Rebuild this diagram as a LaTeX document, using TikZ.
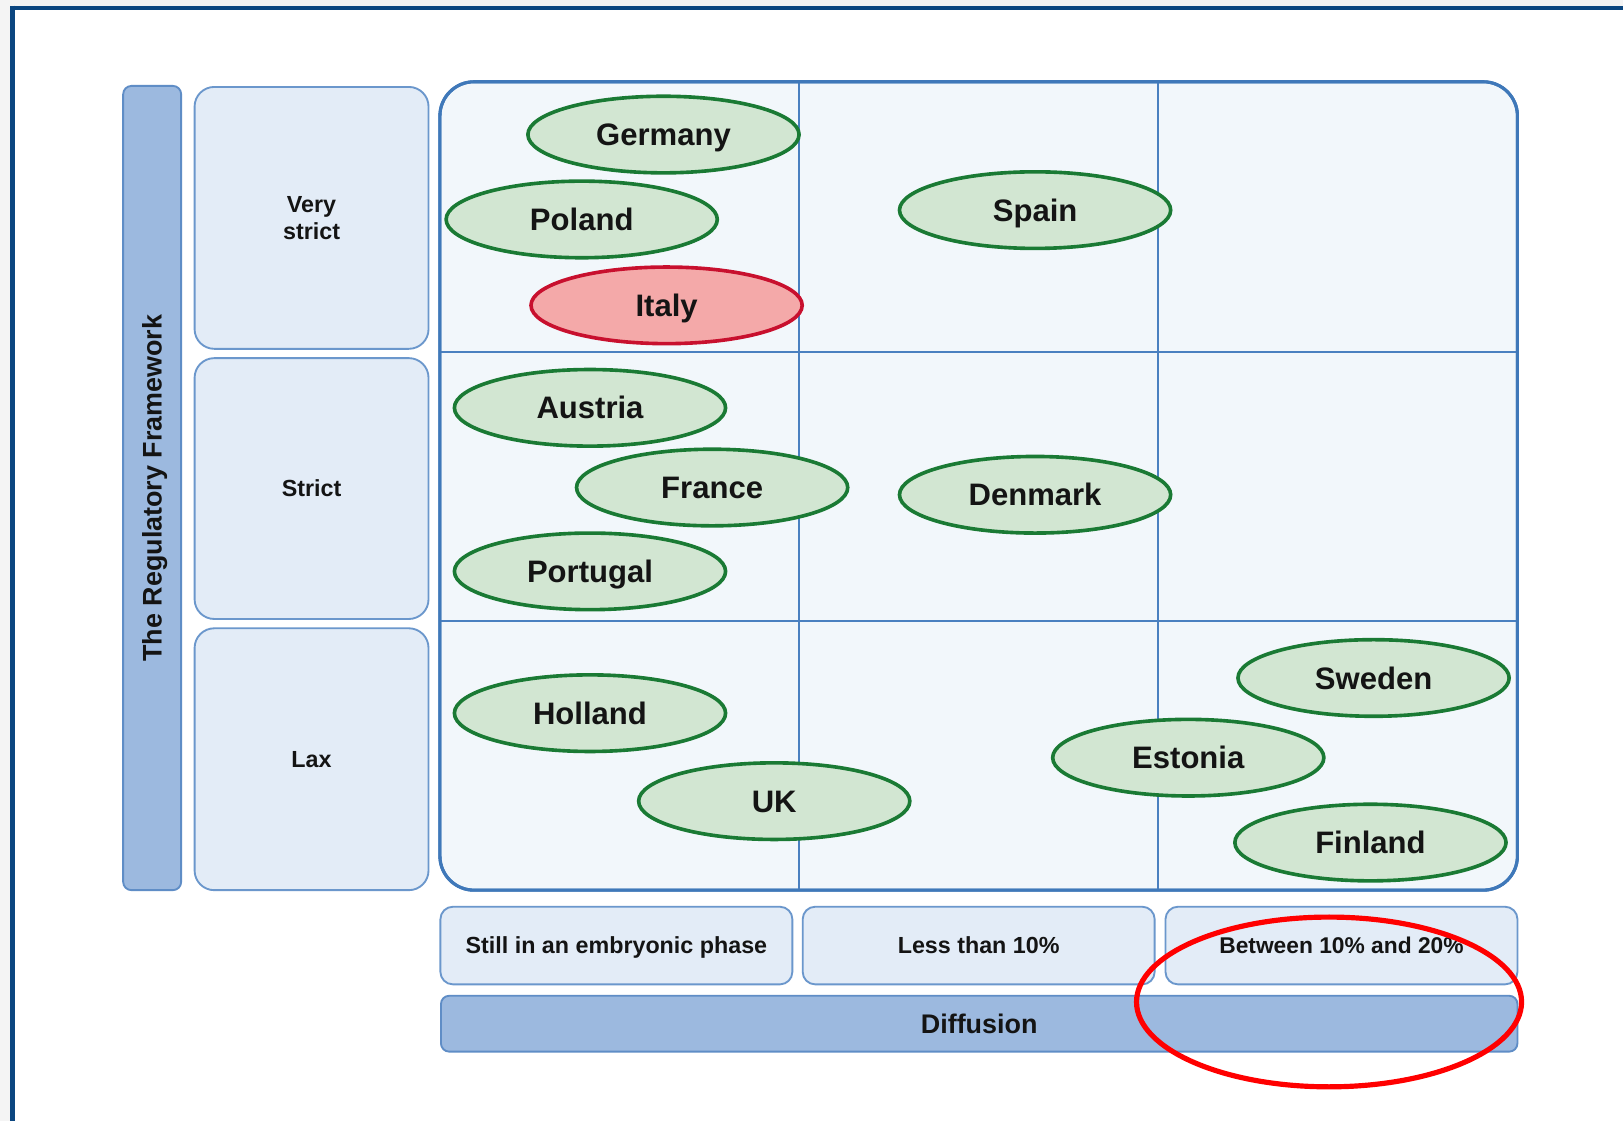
\documentclass[tikz,border=0pt]{standalone}
\usepackage{fontspec}
\setmainfont{Liberation Sans}
\usetikzlibrary{shapes.geometric}
\definecolor{frame}{HTML}{0B4680}
\definecolor{outer}{HTML}{F4F4F4}
\definecolor{barfill}{HTML}{9CB9DF}
\definecolor{barline}{HTML}{5F8DC6}
\definecolor{boxfill}{HTML}{E3ECF7}
\definecolor{boxline}{HTML}{6B97CC}
\definecolor{gridfill}{HTML}{F2F7FB}
\definecolor{gridline}{HTML}{3F78B9}
\definecolor{innerline}{HTML}{4A80C0}
\definecolor{cgreen}{HTML}{1A7A34}
\definecolor{cgreenfill}{HTML}{D2E6D2}
\definecolor{cred}{HTML}{C8102E}
\definecolor{credfill}{HTML}{F4A9A9}
\definecolor{txt}{HTML}{141414}
\tikzset{
  country/.style={ellipse, draw=cgreen, fill=cgreenfill, line width=3.5pt,
    minimum width=262pt, minimum height=74pt, inner sep=0pt,
    text height=21.5pt, text depth=0pt,
    font=\fontsize{30}{36}\selectfont\bfseries, text=txt},
  redcountry/.style={country, draw=cred, fill=credfill},
  labelbox/.style={draw=boxline, fill=boxfill, line width=1.8pt, rounded corners=19pt,
    inner sep=0pt, font=\fontsize{22.5}{26}\selectfont\bfseries, text=txt, align=center,
    minimum width=226pt},
  onelinetext/.style={text height=16pt, text depth=0pt},
  colbox/.style={draw=boxline, fill=boxfill, line width=1.8pt, rounded corners=12pt,
    inner sep=0pt, font=\fontsize{22.5}{26}\selectfont\bfseries, text=txt,
    minimum width=340pt, minimum height=75pt, onelinetext},
  axisbar/.style={draw=barline, fill=barfill, line width=1.8pt, rounded corners=8pt,
    inner sep=0pt, font=\fontsize{26}{30}\selectfont\bfseries, text=txt},
  gridbox/.style={draw=gridline, fill=gridfill, line width=3pt, rounded corners=33pt,
    inner sep=0pt, minimum width=1041pt, minimum height=781pt},
  gridsep/.style={draw=innerline, line width=2pt},
  highlight/.style={ellipse, draw=red, line width=5pt, inner sep=0pt,
    minimum width=372pt, minimum height=164pt}
}
\begin{document}
\begin{tikzpicture}[x=1pt,y=-1pt]
\useasboundingbox (0,0) rectangle (1568,1083);
% background and frame
\fill[outer] (0,0) rectangle (1568,1083);
\fill[white] (12,8) rectangle (1568,1083);
\draw[frame, line width=4.5pt] (9.75,7.7) -- (1568,7.7);
\draw[frame, line width=4.5pt] (12,5.5) -- (12,1083);

% vertical axis bar
\node[axisbar, minimum width=56pt, minimum height=777pt] (rfbar) at (147,471.5) {};
\node[rotate=90, font=\fontsize{26}{30}\selectfont\bfseries, text=txt, text height=18.5pt, text depth=0pt] (rf) at (rfbar.center) {The Regulatory Framework};

% row labels
\node[labelbox, minimum height=253pt] (vs) at (301,210.5) {Very\\strict};
\node[labelbox, minimum height=252pt, onelinetext] (st) at (301,472) {Strict};
\node[labelbox, minimum height=253pt, onelinetext] (lx) at (301,733.5) {Lax};

% grid
\node[gridbox] (grid) at (945.5,469.5) {};
\draw[gridsep] (772,79) -- (772,860);
\draw[gridsep] (1119,79) -- (1119,860);
\draw[gridsep] (425,340) -- (1466,340);
\draw[gridsep] (425,600) -- (1466,600);
\node[gridbox, fill=none] (gridb) at (945.5,469.5) {};

% column labels
\node[colbox] (c1) at (595.5,913.5) {Still in an embryonic phase};
\node[colbox] (c2) at (945.5,913.5) {Less than 10\%};
\node[colbox] (c3) at (1296,913.5) {\fontsize{22}{26}\selectfont Between 10\% and 20\%};

% diffusion bar
\node[axisbar, minimum width=1040pt, minimum height=54pt, text height=18.5pt, text depth=0pt] (diff) at (946,989) {Diffusion};

% countries
\node[country] (germany) at (641,130) {Germany};
\node[country] (poland) at (562,212) {Poland};
\node[redcountry] (italy) at (644,295) {Italy};
\node[country] (spain) at (1000,203) {Spain};
\node[country] (austria) at (570,394) {Austria};
\node[country] (france) at (688,471) {France};
\node[country] (portugal) at (570,552) {Portugal};
\node[country] (denmark) at (1000,478) {Denmark};
\node[country] (holland) at (570,689) {Holland};
\node[country] (uk) at (748,774) {UK};
\node[country] (sweden) at (1327,655) {Sweden};
\node[country] (estonia) at (1148,732) {Estonia};
\node[country] (finland) at (1324,814) {Finland};

% highlight
\node[highlight] (hl) at (1284,968) {};
\end{tikzpicture}
\end{document}
